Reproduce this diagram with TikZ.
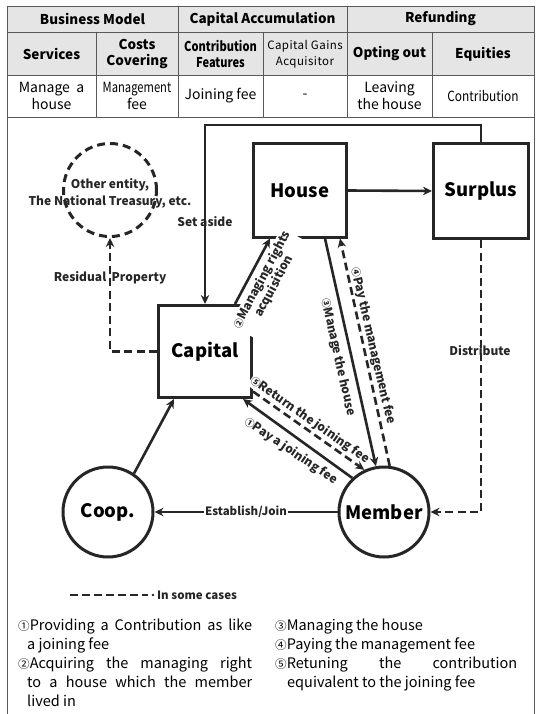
\documentclass[tikz,border=0pt]{standalone}
\usepackage{fontspec}
\usepackage{graphicx}
\setmainfont{Noto Sans CJK KR}
\usetikzlibrary{arrows.meta,calc}
% small circled step numbers
\newcommand\cnum[1]{\scalebox{0.8}{#1}}
\begin{document}
\begin{tikzpicture}[x=1pt,y=-1pt,
  grid/.style={draw=black!65,line width=0.8pt},
  head/.style={font=\fontsize{13.5}{16.5}\selectfont\bfseries,align=center,inner sep=0pt},
  cell/.style={font=\fontsize{14}{17}\selectfont,align=center,inner sep=0pt},
  blk/.style={draw=black!85,line width=3pt,inner sep=0pt,
    font=\fontsize{18.5}{20}\selectfont\bfseries},
  sqbox/.style={blk,minimum width=93pt,minimum height=93pt},
  rnd/.style={blk,circle,minimum size=90pt},
  flow/.style={draw=black!85,line width=2.6pt,-{Stealth[length=9pt,width=8.5pt]}},
  dflow/.style={flow,dash pattern=on 8pt off 4.5pt},
  lab/.style={font=\fontsize{12}{13}\selectfont\bfseries,text=black!85,inner sep=1pt},
  note/.style={anchor=north west,inner sep=0pt,align=justify,
    font=\fontsize{14.5}{19}\selectfont\setlength\parindent{0pt}}
]
\useasboundingbox (0,0) rectangle (536,714);

% ---- summary table ----
\fill[gray!20] (7,6) rectangle (534,75);
\draw[grid] (7,6) rectangle (534,117);
\draw[grid] (7,32) -- (534,32) (7,75) -- (534,75);
\draw[grid] (178,6) -- (178,117) (347,6) -- (347,117);
\draw[grid] (96,32) -- (96,117) (263,32) -- (263,117) (432,32) -- (432,117);

\node[head] (h1) at (92.5,19) {Business Model};
\node[head] (h2) at (262.5,19) {Capital Accumulation};
\node[head] (h3) at (440.5,19) {Refunding};

\node[head] (s1) at (51.5,54) {Services};
\node[head] (s2) at (137,54) {Costs\\Covering};
\node[head] (s3) at (220.5,54) {\scalebox{0.82}[1]{Contribution}\\\scalebox{0.82}[1]{Features}};
\node[cell,font=\fontsize{11.5}{16.5}\selectfont\addfontfeature{LetterSpace=4}] (s4) at (305,54) {Capital Gains\\Acquisitor};
\node[head] (s5) at (389.5,54) {Opting out};
\node[head] (s6) at (483,54) {Equities};

\node[cell] (c1) at (51.5,96) {Manage\ \ a\\house};
\node[cell] (c2) at (137,96) {\scalebox{0.8}[1]{Management}\\fee};
\node[cell] (c3) at (220.5,96) {Joining fee};
\node[cell] (c4) at (305,96) {-};
\node[cell] (c5) at (389.5,96) {Leaving\\the house};
\node[cell] (c6) at (483,96) {\scalebox{0.85}[1]{Contribution}};

% ---- frame of the flow chart ----
\draw[grid] (7,117) -- (7,714) (534,117) -- (534,714);

% ---- entities ----
\node[sqbox] (house) at (300,190.5) {House};
\node[sqbox,minimum width=95pt,minimum height=95pt] (surplus) at (481,191) {Surplus};
\node[sqbox,minimum height=92pt] (capital) at (205,351.5) {Capital};
\node[rnd,dash pattern=on 8pt off 5pt,minimum size=93pt] (other) at (110,190) {};
\node[font=\fontsize{12}{17}\selectfont\bfseries,text=black!85,align=center,inner sep=0pt]
  (othertext) at (110,193) {Other entity,\\The National Treasury, etc.};
\node[rnd] (coop) at (108,512) {Coop.};
\node[rnd] (member) at (384,512) {Member};

% ---- labels that sit over box corners ----
\node[lab,fill=white,rotate=62,align=center,font=\fontsize{12}{12.5}\selectfont\bfseries]
  (l2) at (268,283) {\cnum{②}Managing rights\\acquisition};
\node[lab,fill=white,rotate=-35] (l5) at (310,420) {\cnum{⑤}Return the joining fee};
\node[lab,fill=white,rotate=-34] (l1) at (291,451) {\cnum{①}Pay a joining fee};
\node[lab,rotate=-77.5] (l3) at (338,357) {\cnum{③}Manage the house};
\node[lab,rotate=-77] (l4) at (373,346) {\cnum{④}Pay the management fee};

% ---- connectors ----
\coordinate (sa1) at (481,125);
\coordinate (sa2) at (205,125);
\draw[flow] (surplus.north) -- (sa1) -- (sa2) -- (capital.north);
\node[lab] (setaside) at (205,222) {Set aside};

\draw[flow] (house.east) -- (surplus.west);

\coordinate (rp) at (110,351.5);
\draw[dflow] (capital.west) -- (rp) -- (other.south);
\node[lab] (residual) at (110,278) {Residual\ \ Property};

\coordinate (ds) at (481,512);
\draw[dflow] (surplus.south) -- (ds) -- (member.east);
\node[lab] (distribute) at (480,351) {Distribute};

\draw[flow] (coop.56) -- ($(capital.south west)+(17,0)$);
\draw[flow] (member.west) -- node[lab,fill=white,font=\fontsize{11.5}{12}\selectfont\bfseries] (estab) {Establish/Join} (coop.east);

\draw[flow] ($(capital.north east)+(-18,0)$) -- ($(house.south west)+(18,0)$);
\draw[flow] ($(house.south)+(25,0)$) -- (member.100);
\draw[dflow] (member.83) -- ($(house.south east)+(-8,0)$);
\draw[dflow] ($(capital.east)+(0,40)$) -- (member.115);
\draw[flow] (member.133) -- ($(capital.south east)+(-10,0)$);

% ---- legend ----
\coordinate (lg1) at (70,595);
\coordinate (lg2) at (148,595);
\draw[line width=2.6pt,draw=black!85,dash pattern=on 8pt off 4pt] (lg1) -- (lg2);
\fill[black!85] (153,595) circle (1.4pt);
\node[lab,anchor=west,font=\fontsize{11.5}{12}\selectfont\bfseries] (legend) at (156,595) {In some cases};

% ---- notes ----
\node[note,text width=234pt] (notesL) at (18,619) {%
  {\hangindent=9pt\hangafter=1 \cnum{①}Providing a Contribution as like\linebreak a joining fee\par}
  {\hangindent=9pt\hangafter=1 \cnum{②}Acquiring the managing right\linebreak to a house which the member\linebreak lived in\par}};
\node[note,text width=242pt] (notesR) at (275,619) {%
  {\hangindent=12pt\hangafter=1 \cnum{③}Managing the house\par}
  {\hangindent=12pt\hangafter=1 \cnum{④}Paying the management fee\par}
  {\hangindent=12pt\hangafter=1 \cnum{⑤}Retuning the contribution\linebreak equivalent to the joining fee\par}};
\end{tikzpicture}
\end{document}
